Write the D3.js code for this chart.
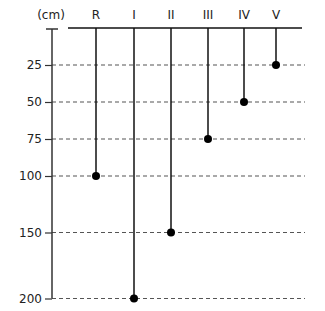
<!DOCTYPE html>
<html>
<head>
<meta charset="utf-8">
<script src="https://cdn.jsdelivr.net/npm/d3@7"></script>
<style>
  body { margin: 0; background: #fff; }
  text { font-family: "DejaVu Sans", sans-serif; }
</style>
</head>
<body>
<svg id="canvas"></svg>
<script>
let categories = ['R', 'I', 'II', 'III', 'IV', 'V'];
let depths = [100, 200, 150, 75, 50, 25];
let tickValues = [25, 50, 75, 100, 150, 200];
let unitLabel = '(cm)';

let width = 325;
let height = 311;
let axisX = 52;

let canvas = d3.select('#canvas')
  .attr('width', width)
  .attr('height', height);

// depth scale is stretched above 100 cm, like the original sketch
let yScale = d3.scaleLinear()
  .domain([0, 100, 150, 200])
  .range([28, 176, 232.5, 298.5]);

let xScale = d3.scaleOrdinal()
  .domain(categories)
  .range([96, 134, 171, 208, 244, 276]);

// dashed guide lines
canvas.append('g')
  .selectAll('line')
  .data(tickValues)
  .enter()
  .append('line')
  .attr('x1', axisX)
  .attr('x2', 305)
  .attr('y1', d => yScale(d))
  .attr('y2', d => yScale(d))
  .attr('stroke', '#555')
  .attr('stroke-width', 1.2)
  .attr('stroke-dasharray', '4,3');

// y axis
let yAxis = d3.axisLeft(yScale)
  .tickValues(tickValues)
  .tickSize(7)
  .tickSizeOuter(0)
  .tickPadding(3);

let yG = canvas.append('g')
  .attr('transform', 'translate(' + axisX + ',0)')
  .call(yAxis);
yG.select('.domain')
  .attr('d', 'M0,' + (yScale(0) + 1) + 'V' + yScale(200))
  .attr('stroke', '#333')
  .attr('stroke-width', 1.5);
yG.selectAll('.tick line').attr('stroke', '#333').attr('stroke-width', 1.2);
yG.selectAll('.tick text')
  .attr('font-size', 12)
  .attr('fill', '#222')
  .attr('font-family', '"DejaVu Sans", sans-serif');

// top cap of the axis
canvas.append('line')
  .attr('x1', axisX - 6)
  .attr('x2', axisX + 6)
  .attr('y1', yScale(0) + 1)
  .attr('y2', yScale(0) + 1)
  .attr('stroke', '#333')
  .attr('stroke-width', 1.5);

// surface line
canvas.append('line')
  .attr('x1', 68)
  .attr('x2', 302)
  .attr('y1', yScale(0))
  .attr('y2', yScale(0))
  .attr('stroke', '#111')
  .attr('stroke-width', 1.5);

// stems
canvas.append('g')
  .selectAll('line')
  .data(categories)
  .enter()
  .append('line')
  .attr('x1', d => xScale(d))
  .attr('x2', d => xScale(d))
  .attr('y1', yScale(0))
  .attr('y2', (d, i) => yScale(depths[i]))
  .attr('stroke', '#111')
  .attr('stroke-width', 1.5);

// dots
canvas.append('g')
  .selectAll('circle')
  .data(categories)
  .enter()
  .append('circle')
  .attr('cx', d => xScale(d))
  .attr('cy', (d, i) => yScale(depths[i]))
  .attr('r', 4)
  .attr('fill', '#000');

// column labels
canvas.append('g')
  .selectAll('text')
  .data(categories)
  .enter()
  .append('text')
  .attr('x', d => xScale(d))
  .attr('y', 19)
  .attr('text-anchor', 'middle')
  .attr('font-size', 12)
  .attr('fill', '#222')
  .text(d => d);

canvas.append('text')
  .attr('x', 51)
  .attr('y', 19)
  .attr('text-anchor', 'middle')
  .attr('font-size', 12)
  .attr('fill', '#222')
  .text(unitLabel);
</script>
</body>
</html>
